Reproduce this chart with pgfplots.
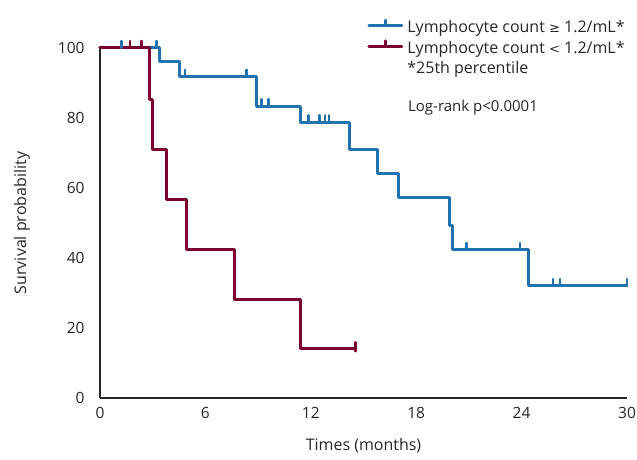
\documentclass[border=0pt]{standalone}
\usepackage{pgfplots}
\pgfplotsset{compat=1.18}
\usepackage{fontspec}
\setmainfont{Open Sans}
\newfontfamily\symfont{DejaVu Sans}
\definecolor{kmblue}{RGB}{34,114,176}
\definecolor{kmred}{RGB}{122,0,50}
\pgfdeclareplotmark{cup}{%
  \pgfpathmoveto{\pgfpoint{0pt}{0pt}}%
  \pgfpathlineto{\pgfpoint{0pt}{\pgfplotmarksize}}%
  \pgfusepathqstroke}
\pgfdeclareplotmark{cboth}{%
  \pgfpathmoveto{\pgfpoint{0pt}{-0.5\pgfplotmarksize}}%
  \pgfpathlineto{\pgfpoint{0pt}{\pgfplotmarksize}}%
  \pgfusepathqstroke}
\newcommand\fs{\fontsize{16bp}{19bp}\selectfont}
\newcommand\ft{\fontsize{15.5bp}{18bp}\selectfont}
\newcommand\fl{\fontsize{15bp}{18bp}\selectfont}
\begin{document}
\begin{tikzpicture}
\useasboundingbox (0,0) rectangle (637bp,460bp);
\begin{axis}[
  at={(100bp,62bp)}, anchor=south west,
  scale only axis, width=527bp, height=350bp,
  xmin=0, xmax=30, ymin=0, ymax=100,
  axis x line=bottom, axis y line=left,
  axis line style={-, line width=1.5bp, black!85},
  xtick={0,6,12,18,24,30}, ytick={0,20,40,60,80,100},
  major tick length=0pt,
  clip=false,
  font=\fs,
  /pgf/number format/assume math mode=true,
  tick label style={font=\ft, text=black!85},
  xticklabel style={anchor=north, yshift=-6bp},
  yticklabel style={anchor=east, xshift=-12bp},
  xlabel={Times (months)},
  ylabel={Survival probability},
  xlabel style={at={(axis description cs:0.5,-0.137)}, anchor=center, text=black!85},
  ylabel style={at={(axis description cs:-0.148,0.5)}, anchor=center, text=black!85},
  legend cell align=left,
  legend style={draw=none, fill=none, at={(axis description cs:0.507,1.084)}, anchor=north west,
    font=\fs, text=black!85,
    row sep=1.5bp, inner sep=0pt, nodes={inner sep=1bp, text height=12bp, text depth=4bp}},
]
\addlegendimage{legend image code/.code={
  \draw[kmblue, line width=3bp, line cap=round] (0bp,3bp) -- (33bp,3bp);
  \draw[kmblue, line width=2.4bp, line cap=round] (16.5bp,3bp) -- (16.5bp,9bp);}}
\addlegendentry{\hspace{3bp}Lymphocyte count {\symfont\fontsize{13bp}{15bp}\selectfont ≥} 1.2/mL*}
\addlegendimage{legend image code/.code={
  \draw[kmred, line width=3bp, line cap=round] (0bp,3bp) -- (33bp,3bp);
  \draw[kmred, line width=2.4bp, line cap=round] (16.5bp,3bp) -- (16.5bp,9bp);}}
\addlegendentry{\hspace{3bp}Lymphocyte count {\symfont\fontsize{13bp}{15bp}\selectfont <} 1.2/mL*}
\addlegendimage{empty legend}
\addlegendentry{\hspace{3bp}*25th percentile}

% Blue group
\addplot[const plot, kmblue, line width=3bp, line cap=round, line join=round, forget plot] coordinates {
 (0,100) (3.38,96) (4.55,91.8) (8.9,83.4) (11.4,78.8) (14.2,70.9) (15.8,64.2)
 (17.0,57.3) (19.9,49.4) (20.07,42.3) (24.4,32) (30,32)};
\addplot[only marks, mark=cup, mark size=7bp, kmblue, line width=2.4bp, line cap=round, forget plot] coordinates {
 (1.23,100) (3.22,100) (4.84,91.8) (8.35,91.8) (9.2,83.4) (9.6,83.4)
 (11.86,78.8) (12.5,78.8) (12.8,78.8) (13.05,78.8) (20.87,42.3) (23.9,42.3)
 (25.8,32) (26.2,32) (30,32)};
% Red group
\addplot[const plot, kmred, line width=3bp, line cap=round, line join=round, forget plot] coordinates {
 (0,100) (2.81,85.3) (3.0,71) (3.8,56.8) (4.9,42.3) (7.63,28) (11.4,14.2) (14.55,14.2)};
\addplot[only marks, mark=cup, mark size=7bp, kmred, line width=2.4bp, line cap=round, forget plot] coordinates {
 (1.71,100) (2.37,100)};
\addplot[only marks, mark=cboth, mark size=6bp, kmred, line width=2.4bp, line cap=round, forget plot] coordinates {
 (14.55,14.2)};

\node[anchor=west, inner sep=0pt, text=black!85, font=\fl] at (axis cs:17.53,83.1) {Log-rank p<0.0001};
\end{axis}
\end{tikzpicture}
\end{document}
